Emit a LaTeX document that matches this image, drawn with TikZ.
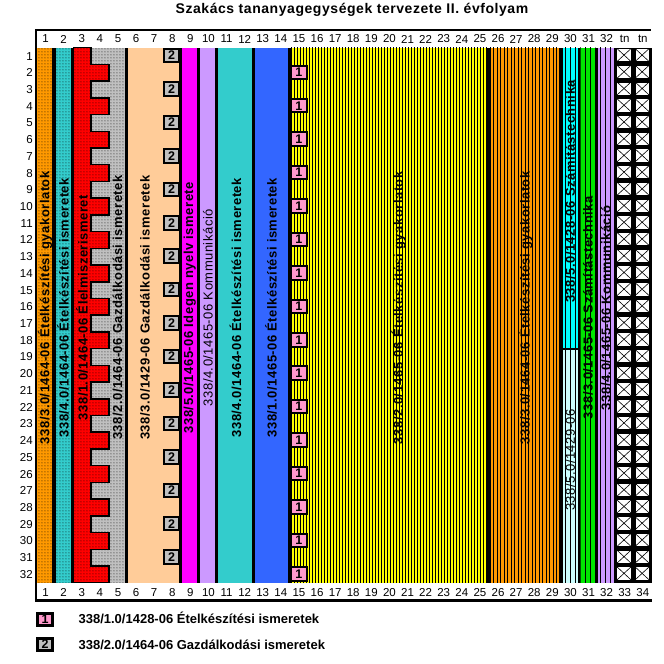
\documentclass[tikz,border=0pt]{standalone}
\usepackage{fontspec}
\setmainfont{Liberation Sans}
\newfontfamily\spacedfont[LetterSpace=4]{Liberation Sans}
\usepackage{tikz}
\usetikzlibrary{patterns.meta}
\definecolor{szorange}{RGB}{255,153,0}
\definecolor{szteal}{RGB}{51,204,204}
\definecolor{szred}{RGB}{255,0,0}
\definecolor{szgrey}{RGB}{192,192,192}
\definecolor{szpeach}{RGB}{255,204,153}
\definecolor{szmagenta}{RGB}{255,0,255}
\definecolor{szlavender}{RGB}{204,153,255}
\definecolor{szblue}{RGB}{51,102,255}
\definecolor{szyellow}{RGB}{255,255,0}
\definecolor{szcyan}{RGB}{0,255,255}
\definecolor{szlightcyan}{RGB}{204,255,255}
\definecolor{szgreen}{RGB}{0,230,0}
\definecolor{szpink}{RGB}{255,153,204}

\begin{document}
\begin{tikzpicture}[x=18.1pt,y=-16.72pt,
    hdr/.style={font=\fontsize{11.5}{12}\selectfont, inner sep=0pt},
    coltext/.style={rotate=90, inner sep=0pt, font=\fontsize{13}{14}\spacedfont\bfseries},
    coltextlight/.style={rotate=90, inner sep=0pt, font=\fontsize{13}{14}\spacedfont},
    dotblock/.style={preaction={fill=#1}, pattern={Dots[distance=3pt,radius=0.5pt]}, pattern color=black},
    lineblock/.style 2 args={preaction={fill=#1}, pattern={Lines[angle=90,distance=#2,line width=0.8pt]}, pattern color=black},
    numbox/.style={draw, line width=2pt, fill=#1, minimum width=15.5pt, minimum height=13.5pt, inner sep=0pt, font=\fontsize{12.5}{12.5}\bfseries\selectfont}]
        \path[use as bounding box, fill=white] (-2.017,-2.853) rectangle (34.67,36.86);

        \node[font=\fontsize{14}{16}\spacedfont\bfseries] (title) at (17.43,-2.25) {Szakács tananyagegységek tervezete II. évfolyam};

        \fill[black] (-0.09,0) rectangle (34,32);
        \draw[line width=2pt] (-0.09,-1.07) -- (33.95,-1.07);
        \draw[line width=1.7pt] (-0.04,-1.07) -- (-0.04,0);
        \draw[line width=1.7pt] (-0.04,32) -- (-0.04,33.06);
        \draw[line width=3pt] (-0.09,33.06) -- (34,33.06);

        \foreach \c in {1,...,32} \node[hdr] (top\c) at (\c-0.5,-0.52) {\c};
        \node[hdr] (toptn1) at (32.5,-0.52) {tn};
        \node[hdr] (toptn2) at (33.5,-0.52) {tn};
        \foreach \c in {1,...,34} \node[hdr] (bot\c) at (\c-0.5,32.6) {\c};
        \foreach \r in {1,...,32} \node[hdr, anchor=east] (row\r) at (-0.2,\r-0.5) {\r};

        \path[dotblock=szorange] (0.05,0) rectangle (0.88,32);
        \path[dotblock=szteal] (1.05,0) rectangle (1.88,32);
        \path[dotblock=szgrey] (3,0) rectangle (4.88,32);
        \draw[line width=1.5pt, dotblock=szred] (2.05,0) -- (3,0)
            \foreach \r in {2,4,...,32} { -- (3,\r-1) -- (4,\r-1) -- (4,\r) -- (3,\r) } -- (2.05,32) -- cycle;
        \fill[szpeach] (5.05,0) rectangle (7.88,32);
        \fill[szmagenta] (8.05,0) rectangle (8.88,32);
        \fill[szlavender] (9.05,0) rectangle (9.88,32);
        \fill[szteal] (10.05,0) rectangle (11.88,32);
        \fill[szblue] (12.05,0) rectangle (13.88,32);
        \path[lineblock={szyellow}{3pt}] (14.05,0) rectangle (24.88,32);
        \path[lineblock={szorange}{3.5pt}] (25.05,0) rectangle (28.88,32);
        \path[lineblock={szcyan}{5pt}] (29.08,0) rectangle (29.9,17.94);
        \path[lineblock={szlightcyan}{5pt}] (29.08,18.06) rectangle (29.9,32);
        \path[lineblock={szgreen}{5pt}] (30.05,0) rectangle (30.88,32);
        \path[lineblock={szlavender}{5pt}] (31.05,0) rectangle (31.88,32);

        \foreach \r in {1,3,...,31} \node[numbox=szgrey] (gaz\r) at (7.46,\r-0.53) {2};
        \foreach \r in {2,4,...,32} \node[numbox=szpink] (etel\r) at (14.5,\r-0.53) {1};

        \foreach \c in {33,34} \foreach \r in {1,...,32} {
            \draw[fill=white, line width=0.6pt] (\c-0.94,\r-0.96) rectangle (\c-0.14,\r-0.16);
            \draw[line width=0.6pt] (\c-0.94,\r-0.96) -- (\c-0.14,\r-0.16) (\c-0.94,\r-0.16) -- (\c-0.14,\r-0.96);
        }

        \node[coltext] (m1) at (0.47,15.55) {338/3.0/1464-06 Ételkészítési gyakorlatok};
        \node[coltext] (m2) at (1.47,15.55) {338/4.0/1464-06 Ételkészítési ismeretek};
        \node[coltext] (m3) at (2.52,15.55) {338/1.0/1464-06 Élelmiszerismeret};
        \node[coltext] (m4) at (4.48,15.55) {338/2.0/1464-06 Gazdálkodási ismeretek};
        \node[coltext] (m6) at (6,15.55) {338/3.0/1429-06 Gazdálkodási ismeretek};
        \node[coltext] (m9) at (8.47,15.55) {338/5.0/1465-06 Idegen nyelv ismerete};
        \node[coltextlight] (m10) at (9.47,15.55) {338/4.0/1465-06 Kommunikáció};
        \node[coltext] (m11) at (11,15.55) {338/4.0/1464-06 Ételkészítési ismeretek};
        \node[coltext] (m13) at (12.95,15.55) {338/1.0/1465-06 Ételkészítési ismeretek};
        \node[coltext] (m15) at (20,15.55) {338/2.0/1465-06 Ételkészítési gyakorlatok};
        \node[coltext] (m26) at (27,15.55) {338/3.0/1464-06 Ételkészítési gyakorlatok};
        \node[coltext] (m30a) at (29.49,8.6) {338/5.0/1428-06 Számítástechnika};
        \node[coltextlight] (m30b) at (29.49,24.66) {338/5.0/1429-06};
        \node[coltext] (m31) at (30.47,15.55) {338/3.0/1465-06 Számítástechnika};
        \node[coltext] (m32) at (31.47,15.55) {338/4.0/1465-06 Kommunikáció};

        \node[numbox=szpink, line width=3pt, minimum width=15pt, minimum height=12pt] (leg1) at (0.47,34.17) {1};
        \node[anchor=west, font=\fontsize{13}{14}\bfseries\selectfont] (leg1txt) at (2.13,34.1) {338/1.0/1428-06 Ételkészítési ismeretek};
        \node[numbox=szgrey, line width=3pt, minimum width=15pt, minimum height=12pt] (leg2) at (0.47,35.7) {2};
        \node[anchor=west, font=\fontsize{13}{14}\bfseries\selectfont] (leg2txt) at (2.13,35.7) {338/2.0/1464-06 Gazdálkodási ismeretek};
    \end{tikzpicture}
\end{document}
